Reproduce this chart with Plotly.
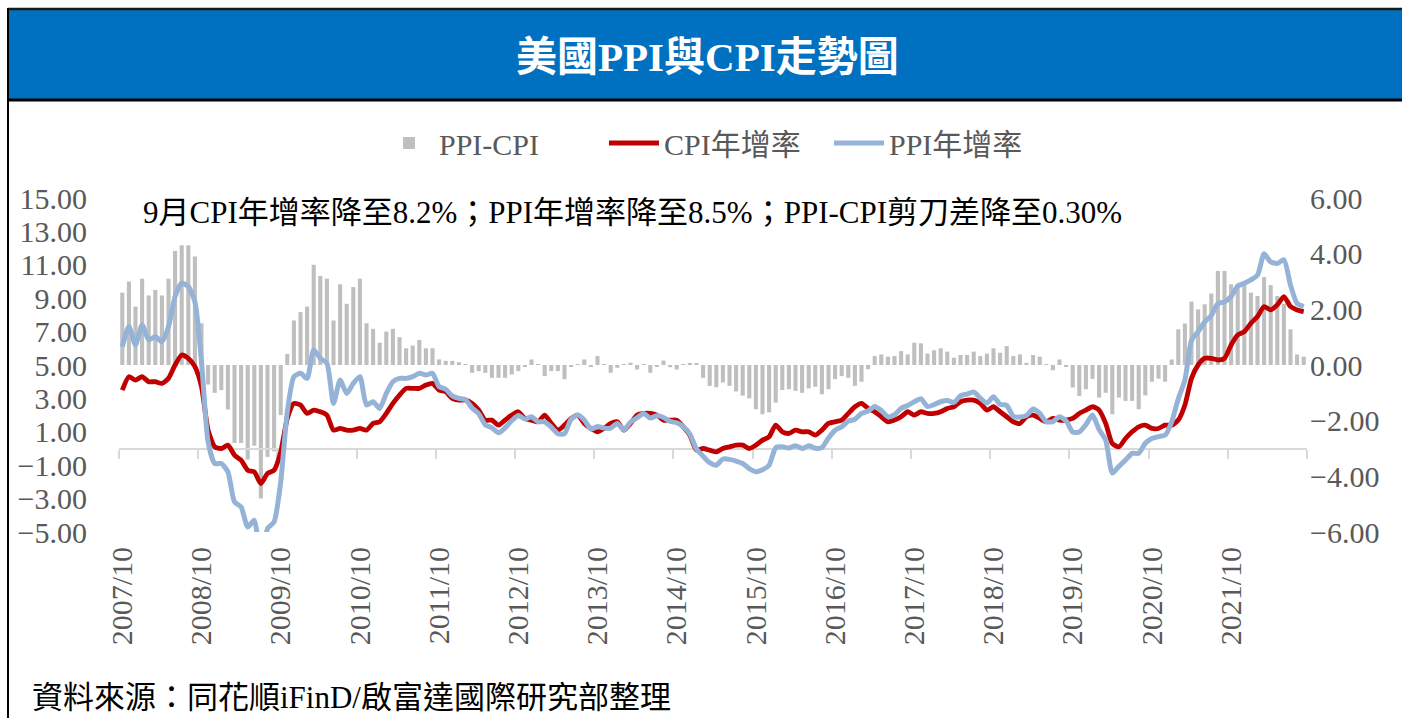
import plotly.graph_objects as go
import pandas as pd

# ---------------- data ----------------
MONTHS = [d.strftime("%Y/%m") for d in pd.date_range("2007-10-01", "2022-09-01", freq="MS")]
TICK_LABELS = ["2007/10", "2008/10", "2009/10", "2010/10", "2011/10", "2012/10", "2013/10",
               "2014/10", "2015/10", "2016/10", "2017/10", "2018/10", "2019/10", "2020/10", "2021/10"]

CPI_YOY = [
    3.5, 4.3, 4.1,
    4.3, 4.0, 4.0, 3.9, 4.2, 5.0, 5.6, 5.4, 4.9, 3.7, 1.1, 0.1,
    0.0, 0.2, -0.4, -0.7, -1.3, -1.4, -2.1, -1.5, -1.3, -0.2, 1.8, 2.7,
    2.6, 2.1, 2.3, 2.2, 2.0, 1.1, 1.2, 1.1, 1.1, 1.2, 1.1, 1.5,
    1.6, 2.1, 2.7, 3.2, 3.6, 3.6, 3.6, 3.8, 3.9, 3.5, 3.4, 3.0,
    2.9, 2.9, 2.7, 2.3, 1.7, 1.7, 1.4, 1.7, 2.0, 2.2, 1.8, 1.7,
    1.6, 2.0, 1.5, 1.1, 1.4, 1.8, 2.0, 1.5, 1.2, 1.0, 1.2, 1.5,
    1.6, 1.1, 1.5, 2.0, 2.1, 2.1, 2.0, 1.7, 1.7, 1.7, 1.3, 0.8,
    -0.1, 0.0, -0.1, -0.2, 0.0, 0.1, 0.2, 0.2, 0.0, 0.2, 0.5, 0.7,
    1.4, 1.0, 0.9, 1.1, 1.0, 1.0, 0.8, 1.1, 1.5, 1.6, 1.7, 2.1,
    2.5, 2.7, 2.4, 2.2, 1.9, 1.6, 1.7, 1.9, 2.2, 2.0, 2.2, 2.1,
    2.1, 2.2, 2.4, 2.5, 2.8, 2.9, 2.9, 2.7, 2.3, 2.5, 2.2, 1.9,
    1.6, 1.5, 1.9, 2.0, 1.8, 1.6, 1.8, 1.7, 1.7, 1.8, 2.1, 2.3,
    2.5, 2.3, 1.5, 0.3, 0.1, 0.6, 1.0, 1.3, 1.4, 1.2, 1.2, 1.4,
    1.4, 1.7, 2.6, 4.2, 5.0, 5.4, 5.4, 5.3, 5.4, 6.2, 6.8, 7.0,
    7.5, 7.9, 8.5, 8.3, 8.6, 9.1, 8.5, 8.3, 8.2,
]

PPI_YOY = [
    6.1, 7.3, 6.2,
    7.4, 6.5, 6.7, 6.4, 7.3, 9.1, 9.9, 9.7, 8.8, 5.2, 0.4, -0.9,
    -0.9, -1.4, -3.2, -3.5, -4.7, -4.3, -6.9, -4.8, -4.4, -2.0, 2.2, 4.3,
    4.5, 4.2, 5.9, 5.4, 5.1, 2.7, 4.1, 3.3, 3.9, 4.3, 2.6, 2.8,
    2.4, 3.3, 4.0, 4.2, 4.2, 4.3, 4.5, 4.4, 4.5, 3.7, 3.55, 3.15,
    3.0, 2.93, 2.42, 2.08, 1.42, 1.24, 0.94, 1.24, 1.66, 1.98, 1.76, 1.9,
    1.6, 1.6, 1.28, 0.88, 0.89, 1.76, 2.0, 1.7, 1.16, 1.32, 1.22, 1.22,
    1.5, 1.12, 1.58, 1.84, 2.1, 1.82, 1.96, 1.86, 1.62, 1.54, 1.3, 0.86,
    -0.04, -0.46, -0.85, -1.0, -0.63, -0.65, -0.75, -0.9, -1.2, -1.39, -1.27, -1.0,
    0.05, 0.1, 0.03, 0.17, 0.0, 0.16, 0.02, 0.05, 0.63, 1.09, 1.3, 1.64,
    1.75, 2.1, 2.25, 2.52, 2.28, 1.9, 2.02, 2.4, 2.58, 2.8, 2.98, 2.51,
    2.63, 2.8, 2.88, 2.76, 3.16, 3.26, 3.38, 3.02, 2.71, 3.1, 2.64, 2.58,
    1.92, 1.88, 1.98, 2.36, 2.1, 1.6, 1.61, 1.9, 1.66, 0.99, 0.99, 1.43,
    2.0, 1.13, 0.5, -1.47, -1.07, -0.69, -0.29, -0.29, 0.31, 0.6, 0.71, 0.8,
    1.6, 2.98, 4.09, 6.48, 7.0, 7.58, 7.97, 8.68, 8.78, 9.1, 9.72, 9.9,
    10.1, 10.38, 11.66, 11.17, 11.08, 11.3, 9.78, 8.68, 8.5,
]

PPI_CPI_GAP = [
    2.6, 3.0, 2.1,
    3.1, 2.5, 2.7, 2.5, 3.1, 4.1, 4.3, 4.3, 3.9, 1.5, -0.7, -1.0,
    -0.9, -1.6, -2.8, -2.8, -3.4, -2.9, -4.8, -3.3, -3.1, -1.8, 0.4, 1.6,
    1.9, 2.1, 3.6, 3.2, 3.1, 1.6, 2.9, 2.2, 2.8, 3.1, 1.5, 1.3,
    0.8, 1.2, 1.3, 1.0, 0.6, 0.7, 0.9, 0.6, 0.6, 0.2, 0.15, 0.15,
    0.1, 0.03, -0.28, -0.22, -0.28, -0.46, -0.46, -0.46, -0.34, -0.22, -0.04, 0.2,
    0.03, -0.4, -0.22, -0.22, -0.51, -0.04, 0.03, 0.2, -0.04, 0.32, 0.02, -0.28,
    -0.1, 0.02, 0.08, -0.16, 0.03, -0.28, -0.04, 0.16, -0.08, -0.16, 0.03, 0.06,
    0.06, -0.46, -0.75, -0.8, -0.63, -0.75, -0.95, -1.1, -1.2, -1.59, -1.77, -1.7,
    -1.35, -0.9, -0.87, -0.93, -1.0, -0.84, -0.78, -1.05, -0.87, -0.51, -0.4, -0.46,
    -0.75, -0.6, -0.15, 0.32, 0.38, 0.3, 0.32, 0.5, 0.38, 0.8, 0.78, 0.41,
    0.53, 0.6, 0.48, 0.26, 0.36, 0.36, 0.48, 0.32, 0.41, 0.6, 0.44, 0.68,
    0.32, 0.38, 0.08, 0.36, 0.3, 0.03, -0.19, 0.2, -0.04, -0.81, -1.11, -0.87,
    -0.5, -1.17, -1.0, -1.77, -1.17, -1.29, -1.29, -1.59, -1.09, -0.6, -0.49, -0.6,
    0.2, 1.28, 1.49, 2.28, 2.0, 2.18, 2.57, 3.38, 3.38, 2.9, 2.92, 2.9,
    2.6, 2.48, 3.16, 2.87, 2.48, 2.2, 1.28, 0.38, 0.30,
]

LEFT_TICKS = [-5, -3, -1, 1, 3, 5, 7, 9, 11, 13, 15]
RIGHT_TICKS = [-6, -4, -2, 0, 2, 4, 6]

TITLE = "美國PPI與CPI走勢圖"
NOTE = "9月CPI年增率降至8.2%；PPI年增率降至8.5%；PPI-CPI剪刀差降至0.30%"
SOURCE = "資料來源：同花順iFinD/啟富達國際研究部整理"

# ---------------- layout helpers ----------------
W, H = 1402, 718
L, R, T, B = 119, 95, 198, 186
PW, PH = W - L - R, H - T - B


def px(x):
    return (x - L) / PW


def py(y):
    return (H - B - y) / PH


FONT = "'Liberation Serif', 'Times New Roman', 'Noto Sans CJK TC', serif"
GRAY_TXT = "#595959"
N = len(MONTHS)
IDX = list(range(N))

fig = go.Figure()
fig.add_trace(go.Bar(
    x=MONTHS, y=PPI_CPI_GAP, name="PPI-CPI", marker_color="#BFBFBF",
    marker_line_width=0, xaxis="x", yaxis="y2",
))
fig.add_trace(go.Scatter(
    x=IDX, y=CPI_YOY, name="CPI年增率", mode="lines",
    line=dict(color="#C00000", width=4.8, shape="spline", smoothing=0.6),
    xaxis="x2", yaxis="y",
))
fig.add_trace(go.Scatter(
    x=IDX, y=PPI_YOY, name="PPI年增率", mode="lines",
    line=dict(color="#95B3D7", width=5, shape="spline", smoothing=0.6),
    xaxis="x2", yaxis="y",
))

shapes = [
    dict(type="rect", xref="paper", yref="paper", x0=px(8), x1=px(W + 5), y0=py(100), y1=py(9),
         fillcolor="#0070C0", line_width=0, layer="below"),
    dict(type="line", xref="paper", yref="paper", x0=px(8), x1=px(W + 5), y0=py(9), y1=py(9),
         line=dict(color="#1a1a1a", width=2.5)),
    dict(type="line", xref="paper", yref="paper", x0=px(8), x1=px(W + 5), y0=py(100), y1=py(100),
         line=dict(color="#000000", width=3)),
    dict(type="line", xref="paper", yref="paper", x0=px(8), x1=px(8), y0=py(8), y1=py(H + 5),
         line=dict(color="#000000", width=2)),
]

annotations = [
    dict(text="<b>" + TITLE + "</b>", xref="paper", yref="paper", x=px(707), y=py(57),
         xanchor="center", yanchor="middle", showarrow=False,
         font=dict(family=FONT, size=41, color="white")),
    dict(text=NOTE, xref="paper", yref="paper", x=px(141), y=py(212),
         xanchor="left", yanchor="middle", showarrow=False,
         font=dict(family=FONT, size=31, color="black")),
    dict(text=SOURCE, xref="paper", yref="paper", x=px(30), y=py(697),
         xanchor="left", yanchor="middle", showarrow=False,
         font=dict(family=FONT, size=31, color="black")),
]

fig.update_layout(
    width=W, height=H,
    margin=dict(l=L, r=R, t=T, b=B, pad=0),
    paper_bgcolor="white", plot_bgcolor="rgba(0,0,0,0)",
    font=dict(family=FONT, size=30, color=GRAY_TXT),
    bargap=0.38,
    showlegend=True,
    legend=dict(orientation="h", x=px(379), y=py(143), xanchor="left", yanchor="middle",
                font=dict(family=FONT, size=30, color=GRAY_TXT), itemwidth=50,
                entrywidth=160, entrywidthmode="pixels",
                bgcolor="rgba(0,0,0,0)", traceorder="normal", tracegroupgap=0),
    xaxis=dict(type="category", range=[-0.5, N - 0.5], tickmode="array",
               tickvals=TICK_LABELS, ticktext=TICK_LABELS, tickangle=-90,
               showline=False, showgrid=False, zeroline=False, ticks="",
               ticklabelstandoff=8,
               tickfont=dict(family=FONT, size=30, color=GRAY_TXT)),
    xaxis2=dict(overlaying="x", anchor="free", position=0.25, side="bottom",
                range=[-0.5, N - 0.5], tickmode="array",
                tickvals=[i - 0.5 for i in range(0, N + 1, 12)],
                showticklabels=False, ticks="outside", ticklen=9, tickwidth=1.5,
                tickcolor="#D9D9D9", showline=True, linecolor="#D9D9D9", linewidth=2,
                showgrid=False, zeroline=False, layer="below traces"),
    yaxis=dict(range=[-5, 15], tickmode="array", tickvals=LEFT_TICKS, tickformat=".2f",
               showgrid=False, zeroline=False, showline=False, ticks="",
               ticklabelstandoff=31,
               tickfont=dict(family=FONT, size=30, color=GRAY_TXT)),
    yaxis2=dict(range=[-6, 6], overlaying="y", side="right", anchor="x", tickmode="array",
                tickvals=RIGHT_TICKS, tickformat=".2f", showgrid=False, zeroline=False,
                showline=False, ticks="", ticklabelstandoff=2,
                tickfont=dict(family=FONT, size=30, color=GRAY_TXT)),
    shapes=shapes,
    annotations=annotations,
)

fig.write_html("out.html", include_plotlyjs=True, full_html=True,
               config={"displayModeBar": False},
               post_script="document.body.style.margin='0px';document.body.style.overflow='hidden';")
